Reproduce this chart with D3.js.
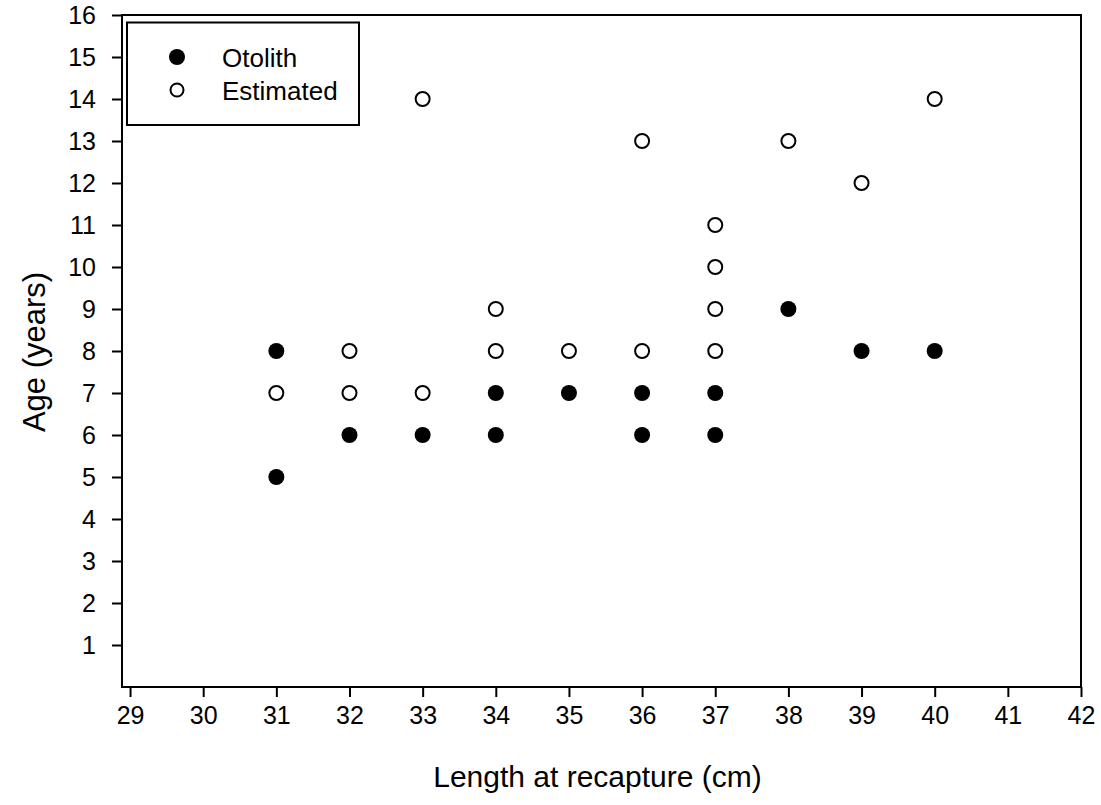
<!DOCTYPE html>
<html>
<head>
<meta charset="utf-8">
<script src="https://cdn.jsdelivr.net/npm/d3@7"></script>
<style>
  body { margin: 0; background: #fff; }
  text { font-family: "Liberation Sans", Arial, sans-serif; fill: #000; }
</style>
</head>
<body>
<svg id="chart" width="1101" height="805"></svg>
<script>
// otolith-aged fish: [length, age]
var otolith = [
  [31, 8], [31, 5], [32, 6], [33, 6], [34, 7], [34, 6], [35, 7],
  [36, 7], [36, 6], [37, 7], [37, 6], [38, 9], [39, 8], [40, 8]
];
// estimated ages
var estimated = [
  [31, 7], [32, 8], [32, 7], [33, 7], [33, 14], [34, 9], [34, 8],
  [35, 8], [36, 13], [36, 8], [37, 11], [37, 10], [37, 9], [37, 8],
  [38, 13], [39, 12], [40, 14]
];
var xTicks = d3.range(29, 43);
var yTicks = d3.range(1, 17);

var svg = d3.select("#chart");
var plotLeft = 122, plotRight = 1081, plotTop = 15, plotBottom = 687;

var x = d3.scaleLinear().domain([28.89, 42]).range([plotLeft, plotRight]);
var y = d3.scaleLinear().domain([0, 16]).range([plotBottom, plotTop]);

var xAxis = svg.append("g")
  .attr("transform", "translate(0," + plotBottom + ")")
  .call(d3.axisBottom(x).tickValues(xTicks).tickSize(10).tickPadding(9).tickSizeOuter(0));
var yAxis = svg.append("g")
  .attr("transform", "translate(" + plotLeft + ",0)")
  .call(d3.axisLeft(y).tickValues(yTicks).tickSize(10).tickPadding(16).tickSizeOuter(0));

[xAxis, yAxis].forEach(function (g) {
  g.attr("font-size", 25).attr("font-family", "Liberation Sans, Arial, sans-serif");
  g.select(".domain").remove();
  g.selectAll("line").attr("stroke", "#000").attr("stroke-width", 2);
  g.selectAll("text").attr("fill", "#000");
});

// frame
svg.append("rect")
  .attr("x", plotLeft).attr("y", plotTop)
  .attr("width", plotRight - plotLeft).attr("height", plotBottom - plotTop)
  .attr("fill", "none").attr("stroke", "#000").attr("stroke-width", 2);

svg.append("g").selectAll("circle")
  .data(otolith)
  .join("circle")
  .attr("cx", function (d) { return x(d[0]); })
  .attr("cy", function (d) { return y(d[1]); })
  .attr("r", 8)
  .attr("fill", "#000");

svg.append("g").selectAll("circle")
  .data(estimated)
  .join("circle")
  .attr("cx", function (d) { return x(d[0]); })
  .attr("cy", function (d) { return y(d[1]); })
  .attr("r", 7)
  .attr("fill", "#fff")
  .attr("stroke", "#000")
  .attr("stroke-width", 2);

// axis titles
svg.append("text")
  .attr("x", (plotLeft + plotRight) / 2 - 4).attr("y", 787)
  .attr("text-anchor", "middle")
  .attr("font-size", 30)
  .text("Length at recapture (cm)");

svg.append("text")
  .attr("transform", "translate(45,352) rotate(-90)")
  .attr("text-anchor", "middle")
  .attr("font-size", 31)
  .text("Age (years)");

// legend
var legend = svg.append("g");
legend.append("rect")
  .attr("x", 127).attr("y", 22.5)
  .attr("width", 232).attr("height", 102.5)
  .attr("fill", "#fff").attr("stroke", "#000").attr("stroke-width", 2);
legend.append("circle").attr("cx", 177).attr("cy", 57).attr("r", 8).attr("fill", "#000");
legend.append("circle").attr("cx", 177).attr("cy", 90).attr("r", 6.5).attr("fill", "#fff")
  .attr("stroke", "#000").attr("stroke-width", 2);
legend.append("text").attr("x", 222).attr("y", 67).attr("font-size", 26).text("Otolith");
legend.append("text").attr("x", 222).attr("y", 100).attr("font-size", 26).text("Estimated");
</script>
</body>
</html>
